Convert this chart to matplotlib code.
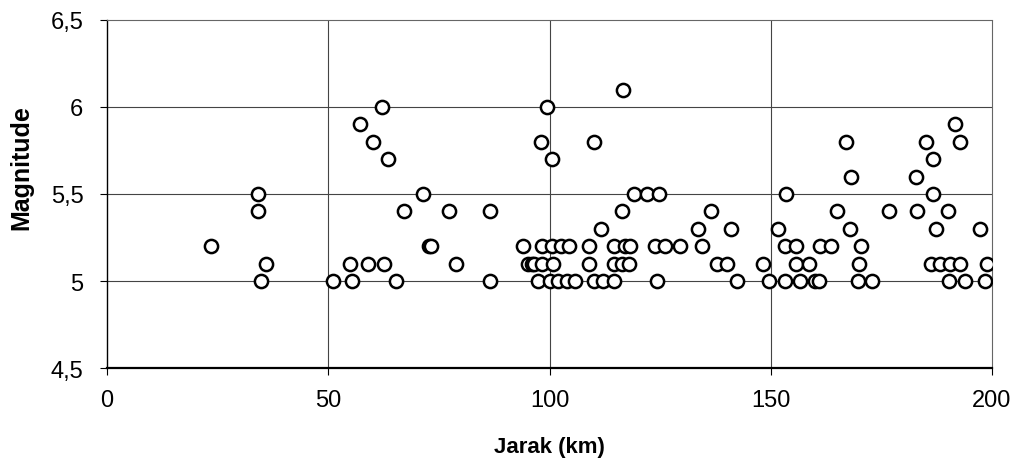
import matplotlib
matplotlib.use('Agg')
import matplotlib.pyplot as plt

plt.rcParams['font.family'] = ['Liberation Sans', 'DejaVu Sans']

# jarak (km) dan magnitude
jarak = [23.5, 34.2, 34.2, 34.7, 36.0, 51.1, 55.3, 55.0, 57.2, 58.9,
         60.2, 62.1, 62.5, 63.6, 65.3, 67.2, 71.3, 72.7, 73.2, 77.3,
         78.8, 86.6, 86.6, 93.9, 95.2, 96.0, 96.6, 97.5, 98.0, 98.2,
         98.4, 99.4, 100.2, 100.5, 100.5, 100.9, 102.0, 102.5, 103.9, 104.5,
         105.8, 109.0, 109.0, 110.0, 110.0, 111.6, 112.2, 114.5, 114.5, 114.5,
         116.3, 116.4, 116.5, 117.0, 117.9, 118.3, 119.2, 122.0, 123.8, 124.3,
         124.8, 126.2, 129.6, 133.5, 134.4, 136.6, 137.9, 140.1, 141.1, 142.4,
         148.3, 149.5, 151.6, 153.2, 153.2, 153.5, 155.6, 155.8, 156.6, 158.6,
         160.1, 161.0, 161.2, 163.6, 164.9, 167.1, 167.8, 168.2, 169.9, 169.8,
         170.4, 172.9, 176.8, 182.8, 183.1, 185.1, 186.3, 186.7, 186.7, 187.3,
         188.2, 190.0, 190.4, 190.3, 191.6, 192.8, 192.8, 194.0, 197.3, 198.8,
         198.4]
magnitude = [5.2, 5.5, 5.4, 5.0, 5.1, 5.0, 5.0, 5.1, 5.9, 5.1,
             5.8, 6.0, 5.1, 5.7, 5.0, 5.4, 5.5, 5.2, 5.2, 5.4,
             5.1, 5.4, 5.0, 5.2, 5.1, 5.1, 5.1, 5.0, 5.8, 5.1,
             5.2, 6.0, 5.0, 5.2, 5.7, 5.1, 5.0, 5.2, 5.0, 5.2,
             5.0, 5.2, 5.1, 5.8, 5.0, 5.3, 5.0, 5.2, 5.1, 5.0,
             5.1, 5.4, 6.1, 5.2, 5.1, 5.2, 5.5, 5.5, 5.2, 5.0,
             5.5, 5.2, 5.2, 5.3, 5.2, 5.4, 5.1, 5.1, 5.3, 5.0,
             5.1, 5.0, 5.3, 5.2, 5.0, 5.5, 5.2, 5.1, 5.0, 5.1,
             5.0, 5.0, 5.2, 5.2, 5.4, 5.8, 5.3, 5.6, 5.1, 5.0,
             5.2, 5.0, 5.4, 5.6, 5.4, 5.8, 5.1, 5.7, 5.5, 5.3,
             5.1, 5.4, 5.1, 5.0, 5.9, 5.8, 5.1, 5.0, 5.3, 5.1,
             5.0]

xticks = [0, 50, 100, 150, 200]
yticks = [4.5, 5, 5.5, 6, 6.5]
ylabels = ['4,5', '5', '5,5', '6', '6,5']

fig = plt.figure(figsize=(10.21, 4.77), dpi=100)
ax = fig.add_axes([0.1048, 0.2264, 0.8668, 0.7296])

ax.plot(jarak, magnitude, linestyle='none', marker='o', markersize=9.5,
        markerfacecolor='white', markeredgecolor='black', markeredgewidth=1.8,
        zorder=3)

ax.set_xlim(0, 200)
ax.set_ylim(4.5, 6.5)
ax.set_xticks(xticks)
ax.set_xticklabels([str(t) for t in xticks])
ax.set_yticks(yticks)
ax.set_yticklabels(ylabels)

for t in [50, 100, 150]:
    ax.axvline(t, color='#444444', linewidth=0.8, zorder=1)
for t in [5, 5.5, 6]:
    ax.axhline(t, color='#444444', linewidth=0.8, zorder=1)

ax.spines['bottom'].set_linewidth(1.6)
ax.spines['left'].set_linewidth(1.0)
for s in ['top', 'right']:
    ax.spines[s].set_linewidth(0.8)
    ax.spines[s].set_linestyle((0, (1, 1)))
    ax.spines[s].set_color('#666666')

ax.tick_params(axis='both', direction='out', length=5, width=0.8,
               labelsize=17, colors='black')
ax.tick_params(axis='y', pad=12)
ax.tick_params(axis='x', pad=10)

ax.set_xlabel('Jarak (km)', fontsize=16, fontweight='bold')
ax.set_ylabel('Magnitude', fontsize=18, fontweight='bold')
ax.xaxis.set_label_coords(0.5, -0.195)
ax.yaxis.set_label_coords(-0.083, 0.58)

fig.savefig('out.png', dpi=100)
